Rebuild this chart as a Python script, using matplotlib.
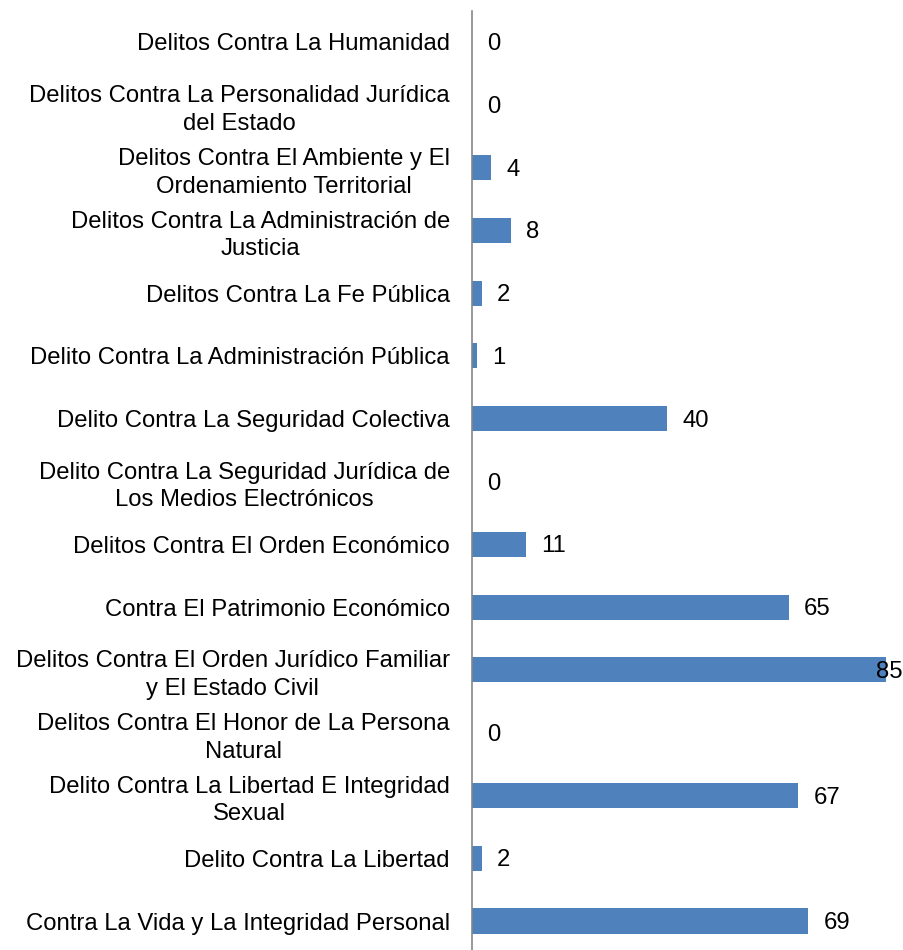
import matplotlib
matplotlib.use("Agg")
import matplotlib.pyplot as plt

plt.rcParams['font.family'] = ['Liberation Sans', 'DejaVu Sans']

# categories listed top to bottom
categories = [
    'Delitos Contra La Humanidad',
    'Delitos Contra La Personalidad Jurídica\ndel Estado',
    'Delitos Contra El Ambiente y El\nOrdenamiento Territorial',
    'Delitos Contra La Administración de\nJusticia',
    'Delitos Contra La Fe Pública',
    'Delito Contra La Administración Pública',
    'Delito Contra La Seguridad Colectiva',
    'Delito Contra La Seguridad Jurídica de\nLos Medios Electrónicos',
    'Delitos Contra El Orden Económico',
    'Contra El Patrimonio Económico',
    'Delitos Contra El Orden Jurídico Familiar\ny El Estado Civil',
    'Delitos Contra El Honor de La Persona\nNatural',
    'Delito Contra La Libertad E Integridad\nSexual',
    'Delito Contra La Libertad',
    'Contra La Vida y La Integridad Personal',
]
values = [0, 0, 4, 8, 2, 1, 40, 0, 11, 65, 85, 0, 67, 2, 69]

bar_color = '#4F81BD'
W, H = 904, 950
fs = 17.2

fig = plt.figure(figsize=(W / 100, H / 100), dpi=100)
# axis line at x=472px, rows span ~10.6px to ~952.4px
ax = fig.add_axes([472 / W, (H - 952.4) / H, (W - 472) / W, (952.4 - 10.6) / H])

y = list(range(len(categories)))
ax.barh(y, values, height=0.4, color=bar_color)
ax.set_ylim(len(categories) - 0.5, -0.5)
ax.set_xlim(0, (W - 472) / 4.87)

ax.set_yticks(y)
ax.set_yticklabels(categories, fontsize=fs, linespacing=1.32, multialignment='center')
ax.tick_params(axis='y', length=0, pad=16)
ax.set_xticks([])

for s in ['top', 'right', 'bottom']:
    ax.spines[s].set_visible(False)
ax.spines['left'].set_color('#868686')
ax.spines['left'].set_linewidth(1.2)

for yi, v in zip(y, values):
    if v > 80:
        # label does not fit past the bar, pulled back over its end
        ax.annotate(str(v), (v, yi), xytext=(-7.5, -1.5), textcoords='offset points',
                    ha='left', va='center', fontsize=fs, clip_on=False)
    else:
        ax.annotate(str(v), (v, yi), xytext=(11, -1.5), textcoords='offset points',
                    ha='left', va='center', fontsize=fs)

fig.savefig('out.png', dpi=100)
